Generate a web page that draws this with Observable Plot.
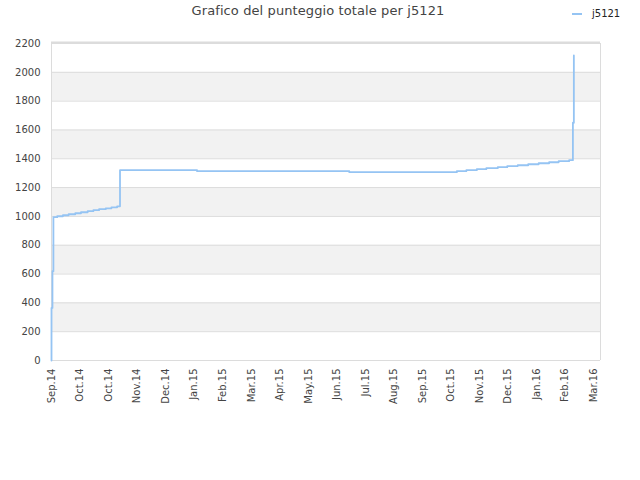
<!DOCTYPE html>
<html><head><meta charset="utf-8">
<script src="https://cdn.jsdelivr.net/npm/d3@7"></script>
<script src="https://cdn.jsdelivr.net/npm/@observablehq/plot@0.6"></script>
<style>
body{margin:0;background:#fff;}
#wrap{position:relative;width:640px;height:480px;font-family:"DejaVu Sans",sans-serif;}
#title{position:absolute;left:0;width:636px;top:3px;text-align:center;font-size:13px;color:#444;letter-spacing:0.1px;}
#legend{position:absolute;left:572px;top:8px;font-size:10px;color:#222;display:flex;align-items:center;}
#chart{position:absolute;left:0;top:0;}
</style></head><body>
<div id="wrap">
<div id="chart"></div>
<div id="title">Grafico del punteggio totale per j5121</div>
<div id="legend"><span style="display:inline-block;width:10px;height:2px;background:#95c4f3;margin-right:10px"></span>j5121</div>
</div>
<script>
const seriesName = "j5121";
const dates = [
  "2014-09-01","2014-09-01","2014-09-02","2014-09-03","2014-09-07","2014-09-13",
  "2014-09-19","2014-09-26","2014-10-02","2014-10-09","2014-10-15","2014-10-21",
  "2014-10-28","2014-11-03","2014-11-09","2014-11-12","2015-02-01","2015-07-11",
  "2015-11-01","2015-11-11","2015-11-22","2015-12-02","2015-12-14","2015-12-24",
  "2016-01-04","2016-01-15","2016-01-26","2016-02-06","2016-02-16","2016-02-27",
  "2016-03-02","2016-03-03"
];
const scores = [
  0,365,620,995,1001,1008,
  1015,1022,1029,1036,1043,1050,
  1056,1063,1070,1321,1314,1307,
  1314,1321,1328,1335,1342,1349,
  1355,1362,1369,1376,1383,1390,
  1650,2117
];
const xTickDates = [
  "2014-09-01","2014-10-01","2014-10-31","2014-11-30","2014-12-30","2015-01-29",
  "2015-02-28","2015-03-30","2015-04-29","2015-05-29","2015-06-28","2015-07-28",
  "2015-08-27","2015-09-26","2015-10-26","2015-11-25","2015-12-25","2016-01-24",
  "2016-02-23","2016-03-24"
];
const xTickLabels = [
  "Sep.14","Oct.14","Oct.14","Nov.14","Dec.14","Jan.15",
  "Feb.15","Mar.15","Apr.15","May.15","Jun.15","Jul.15",
  "Aug.15","Sep.15","Oct.15","Nov.15","Dec.15","Jan.16",
  "Feb.16","Mar.16"
];
const yTicks = [0,200,400,600,800,1000,1200,1400,1600,1800,2000,2200];
const xDomain = [new Date("2014-09-01"), new Date("2016-03-31")];

const data = dates.map((d,i)=>({date:new Date(d), score:scores[i]}));
const bands = [];
for (let i = 1; i < yTicks.length - 1; i += 2) bands.push({y1:yTicks[i], y2:yTicks[i+1]});
const tickDateObjs = xTickDates.map(d=>new Date(d));
const labelMap = new Map(tickDateObjs.map((d,i)=>[+d, xTickLabels[i]]));

const chart = Plot.plot({
  width:640, height:480,
  marginLeft:51, marginRight:40, marginTop:43, marginBottom:120,
  style:{fontFamily:"DejaVu Sans, sans-serif", fontSize:"10px", color:"#444", background:"transparent"},
  x:{type:"utc", domain:xDomain},
  y:{domain:[0,2200]},
  marks:[
    Plot.rect(bands, {x1:()=>xDomain[0], x2:()=>xDomain[1], y1:"y1", y2:"y2", fill:"#f2f2f2"}),
    Plot.ruleY(yTicks, {stroke:"#dcdcdc", strokeWidth:1}),
    Plot.ruleY([2200], {stroke:"#dcdcdc", strokeWidth:2, dy:-1}),
    Plot.ruleY([0], {stroke:"#dcdcdc", strokeWidth:1}),
    Plot.ruleX(xDomain, {stroke:"#dcdcdc", strokeWidth:1}),
    Plot.line(data, {x:"date", y:"score", curve:"step-after", stroke:"#95c4f3", strokeWidth:1.8}),
    Plot.axisY(yTicks, {tickSize:0, tickPadding:11, label:null, fill:"#444", tickFormat:d=>String(d)}),
    Plot.axisX(tickDateObjs, {tickSize:0, tickPadding:8, tickRotate:-90, label:null, fill:"#444",
      tickFormat:d=>labelMap.get(+d)})
  ]
});
document.getElementById("chart").appendChild(chart);
</script>
</body></html>
